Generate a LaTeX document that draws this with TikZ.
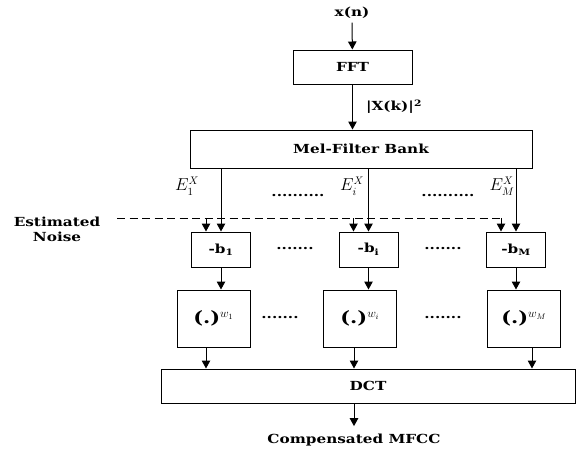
\documentclass[tikz,border=0pt]{standalone}
\usepackage{fontspec}
\setmainfont{DejaVu Serif}[FakeStretch=1.22]
\usepackage{amsmath}
\usepackage{tikz}
\usetikzlibrary{positioning, calc, arrows.meta}

\tikzset{
	blk/.style={draw, inner sep=0pt},
	arr/.style={-{Triangle[length=8pt,width=8.5pt]}},
	noisearr/.style={dash pattern=on 8pt off 4.5pt},
	lbl/.style={font=\normalfont\fontsize{16}{18}\selectfont},
	pw/.style={font=\bfseries\fontsize{17}{19}\selectfont}
}

\begin{document}
\begin{tikzpicture}[x=1pt, y=-1pt, line width=1pt, font=\bfseries\fontsize{12.5}{15}\selectfont]
	\useasboundingbox (0,0) rectangle (576,451);
	
	%//input and FFT
	\node (xn) at (352,13) {x(n)};
	\node [blk, minimum width=119, minimum height=34] (fft) at (352.5,67) {FFT};
	\node [blk, minimum width=342, minimum height=38] (mel) at (361,149) {Mel-Filter Bank};
	\draw [arr] (xn) -- (fft);
	\draw [arr] (fft.south) -- (fft.south |- mel.north);
	\node (xk) at (394,107) {|X(k)|\textsuperscript{2}};
	
	%//noise input
	\node [align=center] (noise) at (57,229) {Estimated\\Noise};
	\coordinate (nzs) at (117,218);
	
	%//channels
	\foreach \n/\bx/\wx/\dx/\ex in {1/221/213.5/-7.5/187, i/368.5/360/-6/352, M/516/524/8/502}
	{
	\node [blk, minimum width=59, minimum height=35] (b\n) at (\bx,249.5) {-b\textsubscript{\n}};
	\node [blk, pw, minimum width=73, minimum height=57] (w\n) at (\wx,318.5) {(.)$^{w_{\n}}$};
	\node [lbl] (e\n) at (\ex,186) {$E_{\n}^{X}$};
	\coordinate (nz\n) at ($(b\n.north)+(-15,0)$);
	\coordinate (wo\n) at ($(w\n.south)+(\dx,0)$);
	\draw [arr] (b\n.north |- mel.south) -- (b\n.north);
	\draw [arr, noisearr] (nzs -| nz\n) -- (nz\n);
	\draw [arr] (b\n.south) -- (b\n.south |- w\n.north);
	}
	\draw [noisearr] (nzs) -- (nzs -| nzM);
	
	\node [blk, minimum width=414, minimum height=34] (dct) at (368,386) {DCT};
	\foreach \n in {1,i,M}
	\draw [arr] (wo\n) -- (wo\n |- dct.north);
	
	\node (comp) at (354,440) {Compensated MFCC};
	\draw [arr] (comp.north |- dct.south) -- ([yshift=4pt]comp.north);
	
	%//dots between channels
	\foreach \x/\y/\val in {298/196/{..........}, 448/196/{..........}, 295/249/{.......}, 443/249/{.......}, 280/318/{.......}, 443/318/{.......}}
	\node (dt) at (\x,\y) {\val};
\end{tikzpicture}
\end{document}
